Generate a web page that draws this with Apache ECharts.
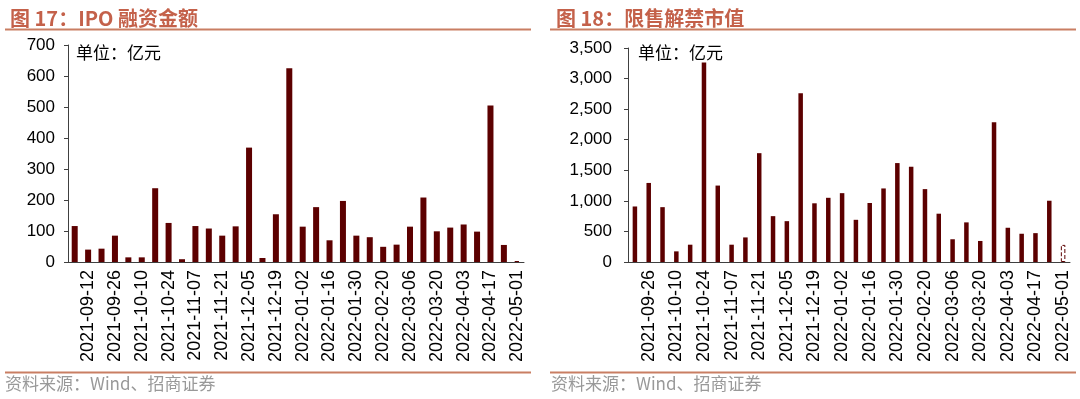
<!DOCTYPE html>
<html>
<head>
<meta charset="utf-8">
<script src="https://cdn.jsdelivr.net/npm/echarts@6/dist/echarts.min.js"></script>
<style>
  html, body { margin: 0; padding: 0; background: #fff; }
  #chart { width: 1080px; height: 399px; }
</style>
</head>
<body>
<div id="chart"></div>
<script>
  // 图17 IPO融资金额（周度，亿元）
  const ipoDates = [
    '2021-09-05', '2021-09-12', '2021-09-19', '2021-09-26', '2021-10-03', '2021-10-10',
    '2021-10-17', '2021-10-24', '2021-10-31', '2021-11-07', '2021-11-14', '2021-11-21',
    '2021-11-28', '2021-12-05', '2021-12-12', '2021-12-19', '2021-12-26', '2022-01-02',
    '2022-01-09', '2022-01-16', '2022-01-23', '2022-01-30', '2022-02-13', '2022-02-20',
    '2022-02-27', '2022-03-06', '2022-03-13', '2022-03-20', '2022-03-27', '2022-04-03',
    '2022-04-10', '2022-04-17', '2022-04-24', '2022-05-01'
  ]
  const ipoValues = [116, 40, 43, 85, 15, 15, 238, 126, 9, 116, 108, 85, 115, 369, 13, 154, 625,
    114, 177, 70, 197, 85, 80, 49, 56, 114, 208, 99, 111, 121, 98, 505, 55, 3]

  // 图18 限售解禁市值（周度，亿元）
  const unlockDates = ipoDates.slice(2)
  const unlockValues = [908, 1293, 897, 174, 283, 3264, 1250, 283, 402, 1780, 750, 668, 2761,
    960, 1050, 1126, 690, 965, 1203, 1618, 1558, 1192, 790, 372, 648, 344, 2285, 560, 462, 472,
    1002, 280]

  const ipoTicks = [0, 700, 100]       // min, max, interval
  const unlockTicks = [0, 3500, 500]

  const barColor = '#5c0000'
  const lineColor = '#c97e63'
  const titleColor = '#c4614a'
  const axisColor = '#404040'

  // 最后一周只画虚线框
  function lastDashed(values) {
    return values.map((v, i) => i === values.length - 1
      ? { value: v, itemStyle: { color: 'rgba(0,0,0,0)', borderColor: barColor, borderType: 'dashed', borderWidth: 1 } }
      : v)
  }

  const chart = echarts.init(document.getElementById('chart'))

  const xLabel = {
    rotate: 90,
    interval: (idx) => idx % 2 === 1,
    fontSize: 18,
    color: '#000',
    fontFamily: 'Liberation Sans',
    margin: 8
  }

  function yAxis(ticks, grid, fmt, margin) {
    return {
      type: 'value',
      gridIndex: grid,
      min: ticks[0],
      max: ticks[1],
      interval: ticks[2],
      axisLine: { show: true, lineStyle: { color: axisColor, width: 1 } },
      axisTick: { show: true, length: 4, lineStyle: { color: axisColor } },
      splitLine: { show: false },
      axisLabel: { fontSize: 17, color: '#000', fontFamily: 'Liberation Sans', margin: margin, formatter: fmt }
    }
  }

  chart.setOption({
    animation: false,
    title: [
      { text: '图 17：IPO 融资金额', left: 5, top: 3,
        textStyle: { color: titleColor, fontSize: 20, fontWeight: 'bold', fontFamily: 'Noto Sans CJK SC' } },
      { text: '图 18：限售解禁市值', left: 551, top: 3,
        textStyle: { color: titleColor, fontSize: 20, fontWeight: 'bold', fontFamily: 'Noto Sans CJK SC' } }
    ],
    grid: [
      { left: 68, top: 45, width: 456, bottom: 137 },
      { left: 628, top: 48, width: 442, bottom: 137 }
    ],
    xAxis: [
      { type: 'category', gridIndex: 0, data: ipoDates,
        axisLine: { lineStyle: { color: axisColor } }, axisTick: { show: false }, axisLabel: xLabel },
      { type: 'category', gridIndex: 1, data: unlockDates,
        axisLine: { lineStyle: { color: axisColor } }, axisTick: { show: false }, axisLabel: xLabel }
    ],
    yAxis: [
      yAxis(ipoTicks, 0, (v) => v, 13),
      yAxis(unlockTicks, 1, (v) => v.toLocaleString('en-US'), 16)
    ],
    series: [
      { type: 'bar', xAxisIndex: 0, yAxisIndex: 0, data: lastDashed(ipoValues),
        barWidth: 6, itemStyle: { color: barColor } },
      { type: 'bar', xAxisIndex: 1, yAxisIndex: 1, data: lastDashed(unlockValues),
        barWidth: 4.5, itemStyle: { color: barColor } }
    ],
    graphic: [
      // 标题下横线
      { type: 'rect', shape: { x: 5, y: 28.5, width: 526, height: 2 }, style: { fill: lineColor } },
      { type: 'rect', shape: { x: 550, y: 28.5, width: 526, height: 2 }, style: { fill: lineColor } },
      // 底部横线
      { type: 'rect', shape: { x: 5, y: 371.5, width: 526, height: 2 }, style: { fill: lineColor } },
      { type: 'rect', shape: { x: 550, y: 371.5, width: 526, height: 2 }, style: { fill: lineColor } },
      // 单位
      { type: 'text', left: 76, top: 44,
        style: { text: '单位：亿元', fontSize: 17, fill: '#000', fontFamily: 'Noto Sans CJK SC' } },
      { type: 'text', left: 638, top: 44,
        style: { text: '单位：亿元', fontSize: 17, fill: '#000', fontFamily: 'Noto Sans CJK SC' } },
      // 资料来源
      { type: 'text', left: 5, top: 375,
        style: { text: '资料来源：Wind、招商证券', fontSize: 17, fill: '#999', fontFamily: 'Noto Sans CJK SC' } },
      { type: 'text', left: 551, top: 375,
        style: { text: '资料来源：Wind、招商证券', fontSize: 17, fill: '#999', fontFamily: 'Noto Sans CJK SC' } }
    ]
  })
</script>
</body>
</html>
